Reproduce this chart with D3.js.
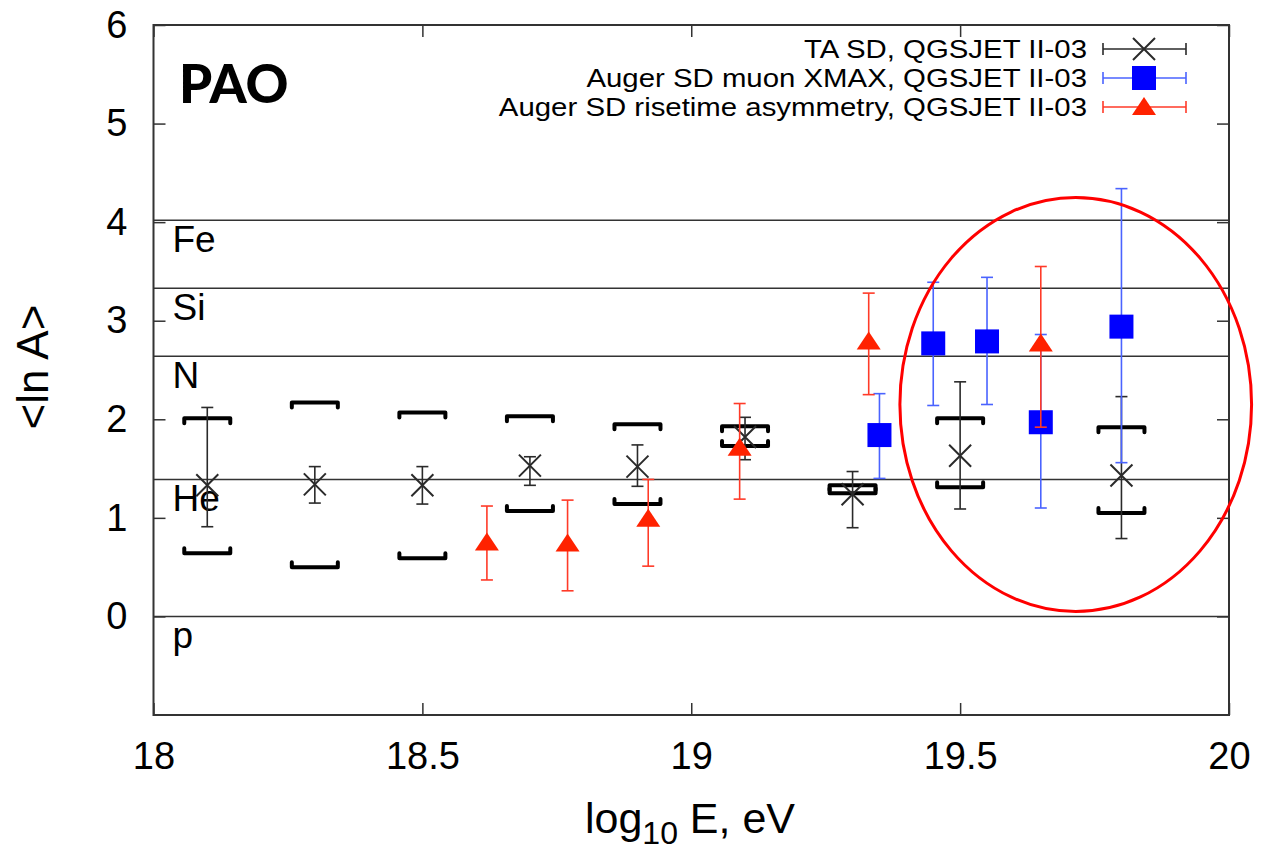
<!DOCTYPE html>
<html>
<head>
<meta charset="utf-8">
<script src="https://cdn.jsdelivr.net/npm/d3@7/dist/d3.min.js"></script>
<style>
  html, body { margin: 0; padding: 0; background: #fff; }
  svg { display: block; font-family: "Liberation Sans", Arial, sans-serif; }
</style>
</head>
<body>
<svg id="chart" width="1263" height="851"></svg>
<script>
// Mean logarithmic mass <ln A> vs. energy, QGSJET II-03 interpretation

// Telescope Array surface detector
const taEnergy = [18.1, 18.3, 18.5, 18.7, 18.9, 19.1, 19.3, 19.5, 19.8];
const taLnA    = [1.33, 1.34, 1.33, 1.53, 1.52, 1.82, 1.24, 1.63, 1.43];
const taErrLo  = [0.91, 1.15, 1.14, 1.33, 1.32, 1.59, 0.90, 1.09, 0.79];
const taErrHi  = [2.12, 1.52, 1.52, 1.62, 1.74, 2.02, 1.47, 2.38, 2.23];
const taSysLo  = [0.64, 0.50, 0.59, 1.07, 1.14, 1.73, 1.25, 1.31, 1.05];
const taSysHi  = [2.01, 2.17, 2.07, 2.03, 1.95, 1.93, 1.33, 2.01, 1.92];

// Auger SD muon production depth
const muonEnergy = [19.35, 19.45, 19.55, 19.65, 19.80];
const muonLnA    = [1.84, 2.77, 2.79, 1.97, 2.94];
const muonErrLo  = [1.40, 2.14, 2.15, 1.10, 1.56];
const muonErrHi  = [2.26, 3.39, 3.44, 2.86, 4.34];

// Auger SD risetime asymmetry
const riseEnergy = [18.62, 18.77, 18.92, 19.09, 19.33, 19.65];
const riseLnA    = [0.75, 0.74, 0.99, 1.71, 2.79, 2.77];
const riseErrLo  = [0.37, 0.26, 0.51, 1.19, 2.25, 1.92];
const riseErrHi  = [1.12, 1.18, 1.39, 2.16, 3.28, 3.55];

// Reference nuclei (ln A)
const nucleusNames = ["p", "He", "N", "Si", "Fe"];
const nucleusLnA   = [0, 1.39, 2.64, 3.33, 4.02];

// Axes
const xDomain = [18, 20];
const yDomain = [-1, 6];
const xTickValues = [18, 18.5, 19, 19.5, 20];
const yTickValues = [0, 1, 2, 3, 4, 5, 6];

// Highlighted region (centre and radii in data units)
const highlightCenter = [19.715, 2.15];
const highlightRadii  = [0.327, 2.10];

const legendLabels = [
  "TA SD, QGSJET II-03",
  "Auger SD muon XMAX, QGSJET II-03",
  "Auger SD risetime asymmetry, QGSJET II-03"
];

const svg = d3.select("#chart");
const x = d3.scaleLinear().domain(xDomain).range([153.5, 1229]);
const y = d3.scaleLinear().domain(yDomain).range([715, 25]);

const frameColor = "#333";
const taColor = "#2a2a2a";
const blueBar = "#4a63ff";
const blueFill = "#0000ff";
const redBar = "#ff3a28";
const redFill = "#ff2200";

// Reference-nucleus lines and labels
const nuc = svg.append("g");
nucleusLnA.forEach((v, i) => {
  nuc.append("line")
    .attr("x1", x(xDomain[0])).attr("x2", x(xDomain[1]))
    .attr("y1", y(v)).attr("y2", y(v))
    .attr("stroke", frameColor).attr("stroke-width", 1.5);
  nuc.append("text")
    .attr("x", x(xDomain[0]) + 19).attr("y", y(v) + 32)
    .attr("font-size", 37).attr("fill", "#000")
    .text(nucleusNames[i]);
});

// Axes with inward ticks
const fmt = d => String(d);
svg.append("g").attr("transform", `translate(0,${y(yDomain[0])})`)
  .call(d3.axisBottom(x).tickValues(xTickValues).tickSize(-12).tickPadding(27).tickFormat(fmt))
  .call(g => g.select(".domain").remove())
  .call(g => g.selectAll("line").attr("stroke", frameColor).attr("stroke-width", 1.5))
  .call(g => g.selectAll("text").attr("font-size", 38).attr("fill", "#000")
    .attr("font-family", "Liberation Sans, Arial, sans-serif"));
svg.append("g").attr("transform", `translate(0,${y(yDomain[1])})`)
  .call(d3.axisTop(x).tickValues(xTickValues).tickSize(-12).tickFormat(""))
  .call(g => g.select(".domain").remove())
  .call(g => g.selectAll("line").attr("stroke", frameColor).attr("stroke-width", 1.5));
svg.append("g").attr("transform", `translate(${x(xDomain[0])},0)`)
  .call(d3.axisLeft(y).tickValues(yTickValues).tickSize(-12).tickPadding(26).tickFormat(fmt))
  .call(g => g.select(".domain").remove())
  .call(g => g.selectAll("line").attr("stroke", frameColor).attr("stroke-width", 1.5))
  .call(g => g.selectAll("text").attr("font-size", 38).attr("fill", "#000")
    .attr("font-family", "Liberation Sans, Arial, sans-serif"));
svg.append("g").attr("transform", `translate(${x(xDomain[1])},0)`)
  .call(d3.axisRight(y).tickValues(yTickValues).tickSize(-12).tickFormat(""))
  .call(g => g.select(".domain").remove())
  .call(g => g.selectAll("line").attr("stroke", frameColor).attr("stroke-width", 1.5));

// Plot frame
svg.append("rect")
  .attr("x", x(xDomain[0])).attr("y", y(yDomain[1]))
  .attr("width", x(xDomain[1]) - x(xDomain[0]))
  .attr("height", y(yDomain[0]) - y(yDomain[1]))
  .attr("fill", "none").attr("stroke", frameColor).attr("stroke-width", 2);

// Axis titles
svg.append("text")
  .attr("transform", `translate(48,367) rotate(-90)`)
  .attr("text-anchor", "middle").attr("font-size", 44).attr("fill", "#000")
  .text("<ln A>");
const xt = svg.append("text")
  .attr("x", 690).attr("y", 833).attr("text-anchor", "middle")
  .attr("font-size", 43).attr("fill", "#000");
xt.append("tspan").text("log");
xt.append("tspan").attr("font-size", 32).attr("dy", 11).text("10");
xt.append("tspan").attr("dy", -11).text(" E, eV");

// Panel tag
svg.append("text")
  .attr("x", 179).attr("y", 103)
  .attr("font-family", "Lato, 'Open Sans', sans-serif")
  .attr("font-weight", 900).attr("font-size", 53).attr("fill", "#000")
  .text("PAO");

// Helpers for markers
const CAP = 6;
function errorBar(g, xv, lo, hi, color, width) {
  const px = x(xv);
  g.append("line").attr("x1", px).attr("x2", px).attr("y1", y(lo)).attr("y2", y(hi))
    .attr("stroke", color).attr("stroke-width", width);
  [lo, hi].forEach(v => g.append("line")
    .attr("x1", px - CAP).attr("x2", px + CAP).attr("y1", y(v)).attr("y2", y(v))
    .attr("stroke", color).attr("stroke-width", width));
}
function cross(g, px, py, color) {
  const s = 11;
  g.append("path")
    .attr("d", `M${px - s},${py - s}L${px + s},${py + s}M${px - s},${py + s}L${px + s},${py - s}`)
    .attr("stroke", color).attr("stroke-width", 2).attr("fill", "none");
}
function square(g, px, py, color) {
  const s = 12;
  g.append("rect").attr("x", px - s).attr("y", py - s).attr("width", 2 * s).attr("height", 2 * s)
    .attr("fill", color);
}
function triangle(g, px, py, color) {
  g.append("path")
    .attr("d", `M${px},${py - 10}L${px + 12},${py + 8}L${px - 12},${py + 8}Z`)
    .attr("fill", color);
}

// TA: systematic brackets, statistical error bars, markers
const ta = svg.append("g");
const BR = 23, HOOK = 5;
taEnergy.forEach((e, i) => {
  const px = x(e);
  const hi = y(taSysHi[i]), lo = y(taSysLo[i]);
  ta.append("path")
    .attr("d", `M${px - BR},${hi + HOOK}L${px - BR},${hi}L${px + BR},${hi}L${px + BR},${hi + HOOK}`)
    .attr("fill", "none").attr("stroke", "#000").attr("stroke-width", 4)
    .attr("stroke-linejoin", "round").attr("stroke-linecap", "round");
  ta.append("path")
    .attr("d", `M${px - BR},${lo - HOOK}L${px - BR},${lo}L${px + BR},${lo}L${px + BR},${lo - HOOK}`)
    .attr("fill", "none").attr("stroke", "#000").attr("stroke-width", 4)
    .attr("stroke-linejoin", "round").attr("stroke-linecap", "round");
  errorBar(ta, e, taErrLo[i], taErrHi[i], taColor, 1.6);
  cross(ta, px, y(taLnA[i]), taColor);
});

// Auger muon XMAX
const mu = svg.append("g");
muonEnergy.forEach((e, i) => {
  errorBar(mu, e, muonErrLo[i], muonErrHi[i], blueBar, 1.6);
  square(mu, x(e), y(muonLnA[i]), blueFill);
});

// Auger risetime asymmetry
const ri = svg.append("g");
riseEnergy.forEach((e, i) => {
  errorBar(ri, e, riseErrLo[i], riseErrHi[i], redBar, 1.6);
  triangle(ri, x(e), y(riseLnA[i]), redFill);
});

// Highlight ellipse
svg.append("ellipse")
  .attr("cx", x(highlightCenter[0])).attr("cy", y(highlightCenter[1]))
  .attr("rx", x(highlightCenter[0] + highlightRadii[0]) - x(highlightCenter[0]))
  .attr("ry", y(highlightCenter[1]) - y(highlightCenter[1] + highlightRadii[1]))
  .attr("fill", "none").attr("stroke", "#ff0000").attr("stroke-width", 3);

// Legend (labels slightly widened, as in gnuplot's stretched font)
const legend = svg.append("g");
const legendColors = [taColor, blueBar, redBar];
const legendRows = [49, 78, 107];
const lx1 = 1103, lx2 = 1186, lxm = 1144;
legendLabels.forEach((label, i) => {
  const ly = legendRows[i];
  legend.append("g").attr("transform", `translate(1087,${ly + 9}) scale(1.13,1)`)
    .append("text").attr("x", 0).attr("y", 0)
    .attr("text-anchor", "end").attr("font-size", 26).attr("fill", "#000").text(label);
  legend.append("line").attr("x1", lx1).attr("x2", lx2).attr("y1", ly).attr("y2", ly)
    .attr("stroke", legendColors[i]).attr("stroke-width", 1.6);
  [lx1, lx2].forEach(cx => legend.append("line")
    .attr("x1", cx).attr("x2", cx).attr("y1", ly - CAP).attr("y2", ly + CAP)
    .attr("stroke", legendColors[i]).attr("stroke-width", 1.6));
  if (i === 0) cross(legend, lxm, ly, taColor);
  if (i === 1) square(legend, lxm, ly, blueFill);
  if (i === 2) triangle(legend, lxm, ly, redFill);
});
</script>
</body>
</html>
